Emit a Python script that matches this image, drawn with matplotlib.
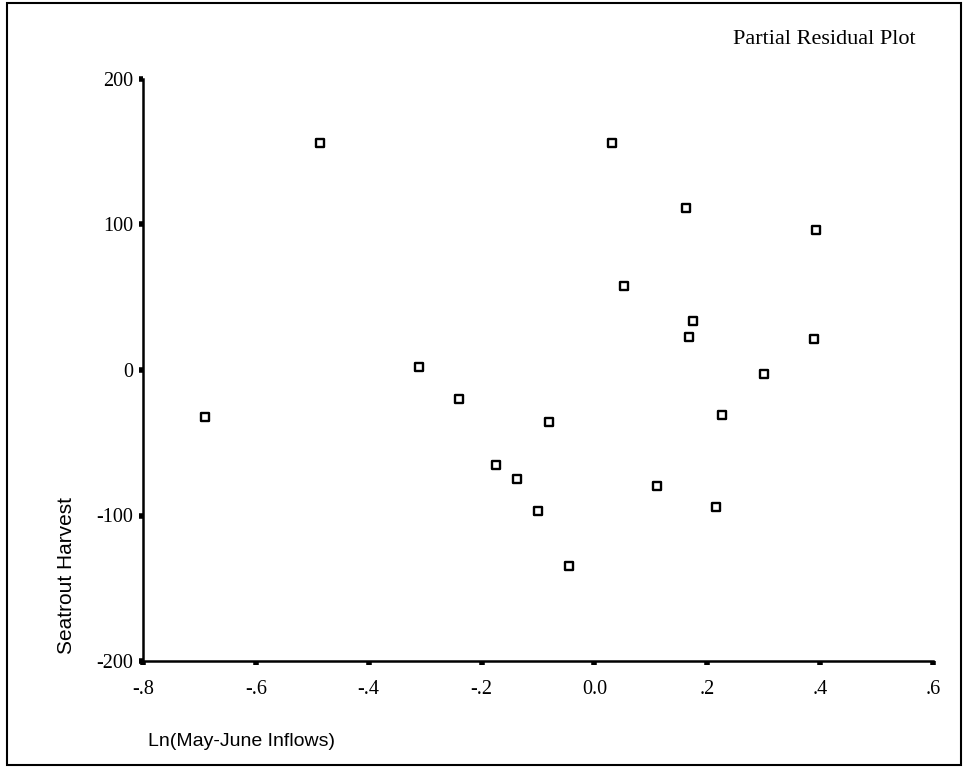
import matplotlib
matplotlib.use("Agg")
import matplotlib.pyplot as plt
from matplotlib.patches import Rectangle

# Data
ln_inflows = [-0.690, -0.486, -0.311, -0.240, -0.174, -0.137, -0.100, -0.081, -0.045,
              0.031, 0.052, 0.162, 0.175, 0.168, 0.111, 0.215, 0.226, 0.300, 0.393, 0.389]
harvest = [-32, 156, 2, -20, -65, -75, -97, -36, -135,
           156, 58, 111, 34, 23, -80, -94, -31, -3, 96, 21]

x_ticks = [-0.8, -0.6, -0.4, -0.2, 0.0, 0.2, 0.4, 0.6]
x_tick_labels = ["-.8", "-.6", "-.4", "-.2", "0.0", ".2", ".4", ".6"]
y_ticks = [-200, -100, 0, 100, 200]
y_tick_labels = ["-200", "-100", "0", "100", "200"]

W, H = 963, 767
fig = plt.figure(figsize=(W / 100, H / 100), dpi=100)
fig.patch.set_facecolor("white")

# Outer border
fig.patches.append(Rectangle((7 / W, 1 - 765 / H), (961 - 7) / W, (765 - 3) / H,
                             transform=fig.transFigure, fill=False,
                             edgecolor="black", linewidth=1.5))

ax = fig.add_axes([143 / W, 1 - 661 / H, (933 - 143) / W, (661 - 79) / H])
ax.scatter(ln_inflows, harvest, marker="s", s=36, facecolors="white",
           edgecolors="black", linewidths=1.7, zorder=3)

ax.set_xlim(-0.8, 0.6)
ax.set_ylim(-200, 200)
for s in ["top", "right"]:
    ax.spines[s].set_visible(False)
for s in ["left", "bottom"]:
    ax.spines[s].set_linewidth(1.8)
    ax.spines[s].set_color("black")

serif = ["Liberation Serif", "DejaVu Serif"]
sans = ["Liberation Sans", "DejaVu Sans"]

ax.set_xticks(x_ticks)
ax.set_xticklabels(x_tick_labels, fontfamily=serif, fontsize=14.5)
ax.set_yticks(y_ticks)
ax.set_yticklabels(y_tick_labels, fontfamily=serif, fontsize=14.5)
ax.tick_params(axis="x", direction="out", length=3, width=4, pad=11, colors="black")
ax.tick_params(axis="y", direction="out", length=3, width=4, pad=4, colors="black")

fig.text(916 / W, 1 - 40 / H, "Partial Residual Plot", ha="right", va="center",
         fontfamily=serif, fontsize=16)
fig.text(148 / W, 1 - 742 / H, "Ln(May-June Inflows)", ha="left", va="center",
         fontfamily=sans, fontsize=14)
fig.text(66 / W, 1 - 575 / H, "Seatrout Harvest", ha="center", va="center",
         rotation=90, fontfamily=sans, fontsize=15)

fig.savefig("out.png", dpi=100, facecolor="white")
